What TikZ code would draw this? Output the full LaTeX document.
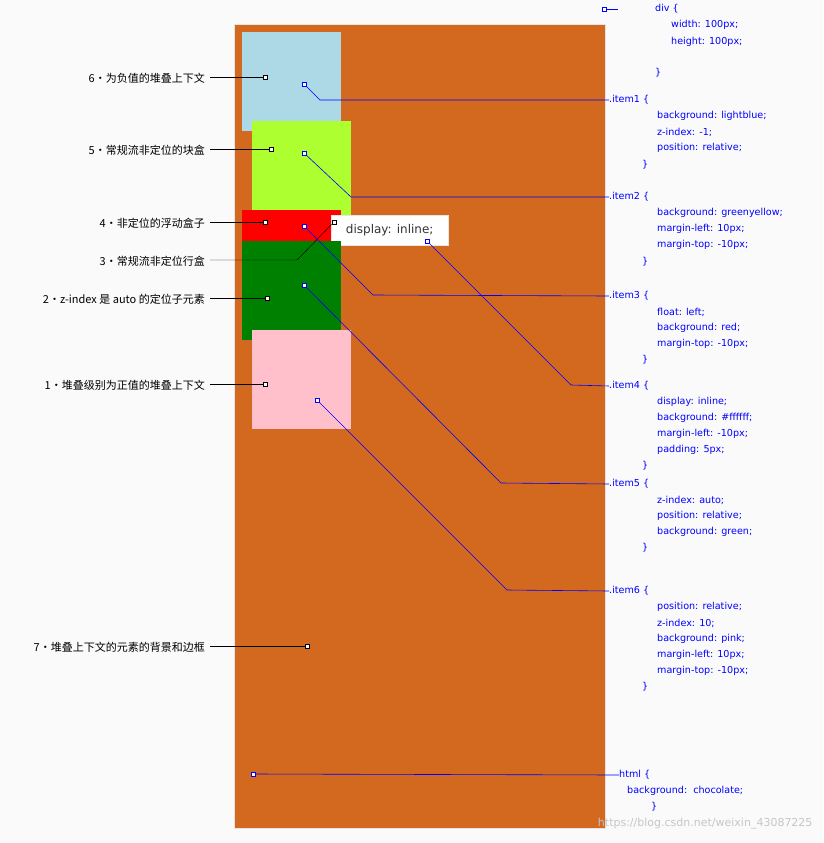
\documentclass[tikz,border=0pt]{standalone}
\usepackage{fontspec}
\setmainfont{DejaVu Sans}
\newfontfamily\cjk{Noto Sans CJK SC}
\usepackage{tikz}
\definecolor{chocolate}{RGB}{210,105,30}
\definecolor{lightblue}{RGB}{173,216,230}
\definecolor{greenyellow}{RGB}{173,255,47}
\definecolor{cssgreen}{RGB}{0,128,0}
\definecolor{csspink}{RGB}{255,192,203}

\begin{document}
\begin{tikzpicture}[x=1pt,y=-1pt,
    mk/.style={draw,fill=white,inner sep=0pt,minimum size=4pt,line width=0.6pt},
    bmk/.style={mk,draw=blue},
    lab/.style={anchor=east,inner sep=0pt,font=\cjk\fontsize{11}{13}\selectfont},
    code/.style={anchor=west,inner sep=0pt,text=blue,font=\fontsize{9.6}{11}\selectfont}]
  \fill[gray!4] (0,0) rectangle (823,843);
  \useasboundingbox (0,0) rectangle (823,843);

  % boxes
  \draw[fill=chocolate,draw=gray!20] (234,24) rectangle (605,828);
  \fill[lightblue] (242,32) rectangle (341,131);
  \fill[greenyellow] (252,121) rectangle (351,220);
  \fill[red] (242,210) rectangle (341,241);
  \node[fill=white,draw=gray!20,anchor=north west,minimum width=117pt,minimum height=30pt,
        inner sep=0pt,font=\fontsize{12}{14}\selectfont,text=black!80] (inl) at (331,215) {display: inline;};
  \fill[cssgreen] (242,241) rectangle (341,340);
  \fill[csspink] (252,330) rectangle (351,429);

  % left labels
  \node[lab] (t6) at (205,78) {6·为负值的堆叠上下文};
  \node[lab] (t5) at (205,150) {5·常规流非定位的块盒};
  \node[lab] (t4) at (205,223) {4·非定位的浮动盒子};
  \node[lab] (t3) at (205,261) {3·常规流非定位行盒};
  \node[lab] (t2) at (205,299) {2·z-index 是 auto 的定位子元素};
  \node[lab] (t1) at (205,385) {1·堆叠级别为正值的堆叠上下文};
  \node[lab] (t7) at (205,647) {7·堆叠上下文的元素的背景和边框};

  \node[mk] (k6) at (265,77) {};
  \node[mk] (k5) at (271,149) {};
  \node[mk] (k4) at (265,222) {};
  \node[mk] (k3) at (334,222) {};
  \node[mk] (k2) at (267,298) {};
  \node[mk] (k1) at (265,384) {};
  \node[mk] (k7) at (307,646) {};
  \draw (210,77) -- (k6);
  \draw (210,149) -- (k5);
  \draw (210,222) -- (k4);
  \draw (210,260) -- (297,260) -- (k3);
  \draw (210,298) -- (k2);
  \draw (210,384) -- (k1);
  \draw (210,646) -- (k7);

  % code
  \node[code] (cdiv) at (655,9) {div \{};
  \node[code] at (671,25) {width: 100px;};
  \node[code] at (671,42) {height: 100px;};
  \node[code] at (655,73) {\}};
  \node[code] (c1) at (609,100) {.item1 \{};
  \foreach \t [count=\i] in {background: lightblue;,z-index: -1;,position: relative;}
    \node[code] at (657,100+16*\i) {\t};
  \node[code] at (642,165) {\}};
  \node[code] (c2) at (609,197) {.item2 \{};
  \foreach \t [count=\i] in {background: greenyellow;,margin-left: 10px;,margin-top: -10px;}
    \node[code] at (657,197+16*\i) {\t};
  \node[code] at (642,262) {\}};
  \node[code] (c3) at (609,296) {.item3 \{};
  \foreach \t [count=\i] in {float: left;,background: red;,margin-top: -10px;}
    \node[code] at (657,296+16*\i) {\t};
  \node[code] at (642,360) {\}};
  \node[code] (c4) at (609,386) {.item4 \{};
  \foreach \t [count=\i] in {display: inline;,background: \#ffffff;,margin-left: -10px;,padding: 5px;}
    \node[code] at (657,386+16*\i) {\t};
  \node[code] at (642,466) {\}};
  \node[code] (c5) at (609,484) {.item5 \{};
  \foreach \t [count=\i] in {z-index: auto;,position: relative;,background: green;}
    \node[code] at (657,484+16*\i) {\t};
  \node[code] at (642,548) {\}};
  \node[code] (c6) at (609,591) {.item6 \{};
  \foreach \t [count=\i] in {position: relative;,z-index: 10;,background: pink;,margin-left: 10px;,margin-top: -10px;}
    \node[code] at (657,591+16*\i) {\t};
  \node[code] at (642,687) {\}};
  \node[code] (chtml) at (619,775) {html \{};
  \node[code] at (627,791) {background:\ \ chocolate;};
  \node[code] at (651,807) {\}};

  % blue connectors
  \node[bmk] (b0) at (604,9) {};
  \node[bmk] (b1) at (304,84) {};
  \node[bmk] (b2) at (304,153) {};
  \node[bmk] (b3) at (304,226) {};
  \node[bmk] (b4) at (427,241) {};
  \node[bmk] (b5) at (304,285) {};
  \node[bmk] (b6) at (317,400) {};
  \node[bmk] (b7) at (253,774) {};
  \begin{scope}[blue,line width=0.6pt]
    \draw (b0) -- (618,9);
    \draw (b1) -- (320,100) -- (c1.west);
    \draw (b2) -- (351,197) -- (c2.west);
    \draw (b3) -- (373,295) -- (c3.west);
    \draw (b4) -- (571,385) -- (c4.west);
    \draw (b5) -- (501,483) -- (c5.west);
    \draw (b6) -- (507,590) -- (c6.west);
    \draw (b7) -- (chtml.west);
  \end{scope}

  \node[anchor=east,text=gray!45,font=\fontsize{11}{13}\selectfont] (wm) at (816,824) {https://blog.csdn.net/weixin\_43087225};
\end{tikzpicture}
\end{document}
